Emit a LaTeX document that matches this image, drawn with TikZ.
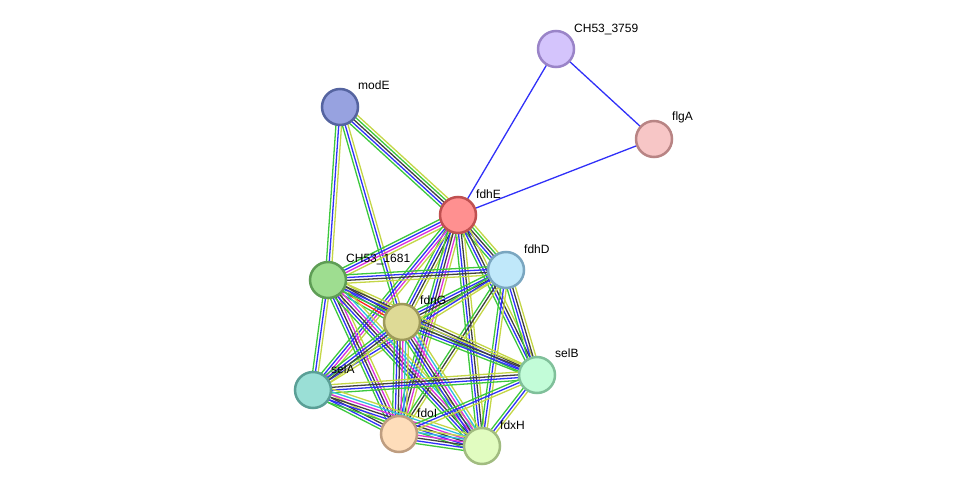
\documentclass[tikz,border=0pt]{standalone}
\usepackage{fontspec}
\setmainfont{Liberation Sans}
\usetikzlibrary{calc,backgrounds}
% evidence channel colours
\definecolor{nbh}{HTML}{3CC83C}
\definecolor{fus}{HTML}{FF2020}
\definecolor{cooc}{HTML}{3030F8}
\definecolor{coex}{HTML}{404040}
\definecolor{expt}{HTML}{DC30DC}
\definecolor{dbs}{HTML}{30BEE0}
\definecolor{txm}{HTML}{C4D646}
\tikzset{
  prot/.style = {circle, draw, line width=2.5pt, minimum size=36pt, inner sep=0pt},
  plab/.style = {anchor=base west, inner sep=0pt, font=\fontsize{12}{14}\selectfont},
  evid/.style = {line width=1.3pt},
}
% one bundle of parallel evidence lines between two nodes
\newcommand{\bundle}[3]{%
  \foreach \c [count=\k] in {#3} {\xdef\nlines{\k}}%
  \foreach \c [count=\k] in {#3} {%
    \pgfmathsetmacro\off{(\k-(\nlines+1)/2)*2.8}
    \draw[evid, draw=\c] ($(#1)!\off pt!90:(#2)$) -- ($(#2)!\off pt!-90:(#1)$);
  }}
\begin{document}
\begin{tikzpicture}[x=1pt, y=-1pt]
  \useasboundingbox (0,0) rectangle (976,492);
  \node[prot, fill={rgb,255:red,212;green,196;blue,252}, draw={rgb,255:red,154;green,132;blue,200}] (c3759) at (556,49) {};
  \node[prot, fill={rgb,255:red,247;green,198;blue,198}, draw={rgb,255:red,184;green,132;blue,132}] (flgA) at (654,139) {};
  \node[prot, fill={rgb,255:red,151;green,162;blue,224}, draw={rgb,255:red,85;green,100;blue,160}] (modE) at (340,107) {};
  \node[prot, fill={rgb,255:red,255;green,144;blue,144}, draw={rgb,255:red,192;green,80;blue,80}] (fdhE) at (458,215) {};
  \node[prot, fill={rgb,255:red,192;green,232;blue,250}, draw={rgb,255:red,122;green,166;blue,192}] (fdhD) at (506,270) {};
  \node[prot, fill={rgb,255:red,158;green,221;blue,144}, draw={rgb,255:red,94;green,157;blue,85}] (c1681) at (328,280) {};
  \node[prot, fill={rgb,255:red,222;green,218;blue,150}, draw={rgb,255:red,158;green,154;blue,90}] (fdnG) at (402,322) {};
  \node[prot, fill={rgb,255:red,194;green,252;blue,216}, draw={rgb,255:red,128;green,192;blue,154}] (selB) at (537,375) {};
  \node[prot, fill={rgb,255:red,154;green,223;blue,214}, draw={rgb,255:red,90;green,159;blue,150}] (selA) at (313,390) {};
  \node[prot, fill={rgb,255:red,254;green,221;blue,186}, draw={rgb,255:red,190;green,157;blue,128}] (fdoI) at (399,434) {};
  \node[prot, fill={rgb,255:red,225;green,252;blue,192}, draw={rgb,255:red,161;green,188;blue,128}] (fdxH) at (482,446) {};
  % labels
  \node[plab] (c3759lab) at ($(c3759)+(18,-16)$) {CH53\_3759};
  \node[plab] (flgAlab) at ($(flgA)+(18,-18)$) {flgA};
  \node[plab] (modElab) at ($(modE)+(18,-17)$) {modE};
  \node[plab] (fdhElab) at ($(fdhE)+(18,-17)$) {fdhE};
  \node[plab] (fdhDlab) at ($(fdhD)+(18,-17)$) {fdhD};
  \node[plab] (c1681lab) at ($(c1681)+(18,-18)$) {CH53\_1681};
  \node[plab] (fdnGlab) at ($(fdnG)+(18,-18)$) {fdnG};
  \node[plab] (selBlab) at ($(selB)+(18,-18)$) {selB};
  \node[plab] (selAlab) at ($(selA)+(18,-17)$) {selA};
  \node[plab] (fdoIlab) at ($(fdoI)+(18,-17)$) {fdoI};
  \node[plab] (fdxHlab) at ($(fdxH)+(18,-17)$) {fdxH};
  % interactions
  \begin{pgfonlayer}{background}
    \bundle{c3759}{fdhE}{cooc}
    \bundle{c3759}{flgA}{cooc}
    \bundle{flgA}{fdhE}{cooc}
    \bundle{modE}{fdhE}{nbh,cooc,coex,nbh,txm}
    \bundle{modE}{c1681}{nbh,cooc,txm}
    \bundle{modE}{fdnG}{nbh,cooc,txm}
    \bundle{fdhE}{c1681}{nbh,cooc,expt,txm}
    \bundle{fdhE}{fdhD}{nbh,cooc,coex,nbh,txm}
    \bundle{fdhE}{fdnG}{nbh,cooc,coex,txm}
    \bundle{fdhE}{selB}{nbh,cooc,coex,txm}
    \bundle{fdhE}{selA}{nbh,cooc,expt,txm}
    \bundle{fdhE}{fdoI}{nbh,cooc,coex,expt,txm}
    \bundle{fdhE}{fdxH}{nbh,cooc,coex,txm}
    \bundle{fdhD}{c1681}{nbh,cooc,coex,txm}
    \bundle{fdhD}{fdnG}{nbh,cooc,coex,txm}
    \bundle{fdhD}{selB}{nbh,cooc,coex,txm}
    \bundle{fdhD}{selA}{nbh,cooc,txm}
    \bundle{fdhD}{fdoI}{nbh,coex,txm}
    \bundle{fdhD}{fdxH}{nbh,cooc,txm}
    \bundle{c1681}{fdnG}{nbh,fus,cooc,coex,txm}
    \bundle{c1681}{selA}{nbh,cooc,txm}
    \bundle{c1681}{fdoI}{nbh,cooc,coex,expt,txm}
    \bundle{c1681}{fdxH}{nbh,cooc,coex,expt,dbs,txm}
    \bundle{c1681}{selB}{nbh,cooc,coex,txm}
    \bundle{fdnG}{selA}{nbh,cooc,coex,txm}
    \bundle{fdnG}{fdoI}{nbh,cooc,coex,expt,dbs,txm}
    \bundle{fdnG}{fdxH}{nbh,cooc,coex,expt,dbs,txm}
    \bundle{fdnG}{selB}{nbh,cooc,coex,txm}
    \bundle{selA}{selB}{nbh,cooc,coex,txm}
    \bundle{selA}{fdoI}{nbh,cooc,coex,txm}
    \bundle{selA}{fdxH}{nbh,cooc,coex,expt,dbs,txm}
    \bundle{selB}{fdoI}{nbh,cooc,txm}
    \bundle{selB}{fdxH}{nbh,cooc,txm}
    \bundle{fdoI}{fdxH}{nbh,cooc,coex,expt,dbs,txm}
  \end{pgfonlayer}
\end{tikzpicture}
\end{document}
